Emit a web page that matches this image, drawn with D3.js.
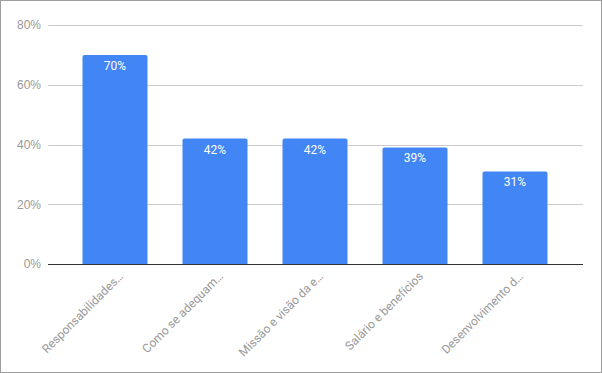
<!DOCTYPE html>
<html>
<head>
<meta charset="utf-8">
<script src="https://cdn.jsdelivr.net/npm/d3@7"></script>
<style>
  body { margin: 0; background: #fff; }
  svg { display: block; font-family: Roboto, Arial, sans-serif; }
</style>
</head>
<body>
<svg id="chart" width="602" height="373"></svg>
<script>
const categories = [
  'Responsabilidades…',
  'Como se adequam…',
  'Missão e visão da e…',
  'Salário e benefícios',
  'Desenvolvimento d…',
];
const values = [70, 42, 42, 39, 31];
const yTicks = [0, 20, 40, 60, 80];

const width = 602;
const height = 373;
const plot = { left: 48, right: 583, top: 25, bottom: 264 };

const svg = d3.select('#chart');

// outer frame
svg.append('rect')
  .attr('x', 0.5).attr('y', 0.5)
  .attr('width', width - 1).attr('height', height - 1)
  .attr('fill', '#fff').attr('stroke', '#9e9e9e');

const x = d3.scaleBand()
  .domain(categories)
  .range([65, 565])
  .paddingInner(0.35)
  .paddingOuter(0.175);

const y = d3.scaleLinear()
  .domain([0, 80])
  .range([plot.bottom, plot.top]);

// gridlines + tick labels
const yAxis = d3.axisLeft(y)
  .tickValues(yTicks)
  .tickFormat((d) => d + '%')
  .tickSize(-(plot.right - plot.left))
  .tickPadding(7);

const gy = svg.append('g')
  .attr('transform', `translate(${plot.left},0)`)
  .call(yAxis);
gy.select('.domain').remove();
gy.selectAll('.tick line').attr('stroke', '#cccccc').attr('shape-rendering', 'crispEdges');
gy.selectAll('.tick text').attr('fill', '#999').attr('font-size', 12);

// bars
svg.append('g')
  .selectAll('path')
  .data(values)
  .join('path')
  .attr('fill', '#4285f4')
  .attr('d', (d, i) => {
    const x0 = x(categories[i]);
    const w = x.bandwidth();
    const y0 = y(d);
    const y1 = y(0);
    const r = 2;
    return `M${x0},${y1}V${y0 + r}Q${x0},${y0} ${x0 + r},${y0}H${x0 + w - r}Q${x0 + w},${y0} ${x0 + w},${y0 + r}V${y1}Z`;
  });

// value labels
svg.append('g')
  .selectAll('text')
  .data(values)
  .join('text')
  .attr('x', (d, i) => x(categories[i]) + x.bandwidth() / 2)
  .attr('y', (d) => y(d) + 15)
  .attr('text-anchor', 'middle')
  .attr('fill', '#fff')
  .attr('font-size', 12)
  .text((d) => d + '%');

// baseline
svg.append('line')
  .attr('x1', plot.left).attr('x2', plot.right)
  .attr('y1', y(0) + 0.5).attr('y2', y(0) + 0.5)
  .attr('stroke', '#333');

// category labels, rotated
svg.append('g')
  .selectAll('text')
  .data(categories)
  .join('text')
  .attr('transform', (d) => `translate(${x(d) + x.bandwidth() / 2 + 6},${plot.bottom + 10}) rotate(-45)`)
  .attr('text-anchor', 'end')
  .attr('dy', '0.35em')
  .attr('fill', '#999')
  .attr('font-size', 12)
  .text((d) => d);
</script>
</body>
</html>
